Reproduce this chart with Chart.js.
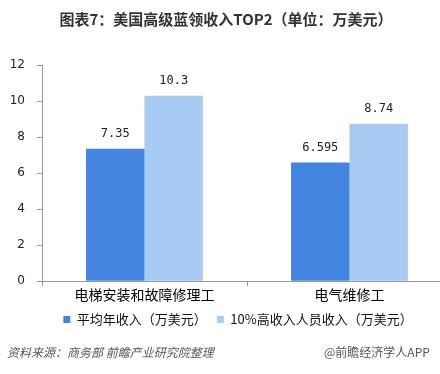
<!DOCTYPE html>
<html>
<head>
<meta charset="utf-8">
<script src="https://cdn.jsdelivr.net/npm/chart.js@4"></script>
<style>
  html, body { margin: 0; padding: 0; background: #fff; overflow: hidden; }
  #wrap { position: relative; width: 440px; height: 374px; overflow: hidden; }
  #box { position: absolute; left: 0; top: 0; width: 460px; height: 374px; }
  .src { position: absolute; top: 343px; font: italic 12px "Noto Sans CJK SC", sans-serif; color: #555; }
</style>
</head>
<body>
<div id="wrap">
  <div id="box"><canvas id="chart" width="460" height="374"></canvas></div>
  <div class="src" style="left:7px">资料来源：商务部 前瞻产业研究院整理</div>
  <div class="src" style="left:324px;font-style:normal">@前瞻经济学人APP</div>
</div>
<script>
// data
const categories = ['电梯安装和故障修理工', '电气维修工'];
const avgIncome = [7.35, 6.595];
const topIncome = [10.3, 8.74];
const seriesNames = ['平均年收入（万美元）', '10%高收入人员收入（万美元）'];
const yTicks = [0, 2, 4, 6, 8, 10, 12];

// value labels above bars
const valueLabels = {
  id: 'valueLabels',
  afterDatasetsDraw(chart) {
    const ctx = chart.ctx;
    ctx.save();
    ctx.font = '12px "DejaVu Sans Mono", monospace';
    ctx.fillStyle = '#222';
    ctx.textAlign = 'center';
    ctx.textBaseline = 'bottom';
    chart.data.datasets.forEach((ds, i) => {
      chart.getDatasetMeta(i).data.forEach((bar, j) => {
        ctx.fillText(String(ds.data[j]), bar.x, bar.y - 9);
      });
    });
    ctx.restore();
  }
};

// nudge the legend a bit to the right, like the original
const legendShift = {
  id: 'legendShift',
  afterLayout(chart) {
    if (chart.legend) {
      chart.legend.left += 12;
      chart.legend.right += 12;
    }
  }
};

new Chart(document.getElementById('chart'), {
  type: 'bar',
  data: {
    labels: categories,
    datasets: [
      { label: seriesNames[0], data: avgIncome, backgroundColor: 'rgb(66,132,223)' },
      { label: seriesNames[1], data: topIncome, backgroundColor: 'rgb(169,202,243)' }
    ]
  },
  options: {
    responsive: false,
    animation: false,
    layout: { padding: { left: 0, right: 8, top: 6, bottom: 38 } },
    datasets: { bar: { categoryPercentage: 0.57, barPercentage: 1 } },
    plugins: {
      title: {
        display: true,
        text: '图表7：美国高级蓝领收入TOP2（单位：万美元）',
        color: '#333',
        font: { family: '"Noto Sans CJK SC", sans-serif', size: 15, weight: 'bold' },
        padding: { top: 4, bottom: 37 }
      },
      legend: {
        position: 'bottom',
        labels: {
          boxWidth: 7, boxHeight: 7, padding: 10,
          color: '#111',
          font: { family: '"Noto Sans CJK SC", sans-serif', size: 13 }
        }
      },
      tooltip: { enabled: false }
    },
    scales: {
      x: {
        grid: { drawOnChartArea: false, drawTicks: true, tickLength: 5, color: '#999' },
        border: { color: '#999' },
        ticks: { color: '#000', padding: 0, font: { family: '"Noto Sans CJK SC", sans-serif', size: 14 } }
      },
      y: {
        min: 0, max: 12,
        afterBuildTicks(scale) { scale.ticks = yTicks.map(v => ({ value: v })); },
        afterFit(scale) { scale.width = 42; },
        grid: { drawOnChartArea: false, drawTicks: true, tickLength: 5, color: '#999' },
        border: { color: '#999' },
        ticks: { color: '#222', padding: 12, font: { family: '"DejaVu Sans", sans-serif', size: 12 } }
      }
    }
  },
  plugins: [valueLabels, legendShift]
});
</script>
</body>
</html>
